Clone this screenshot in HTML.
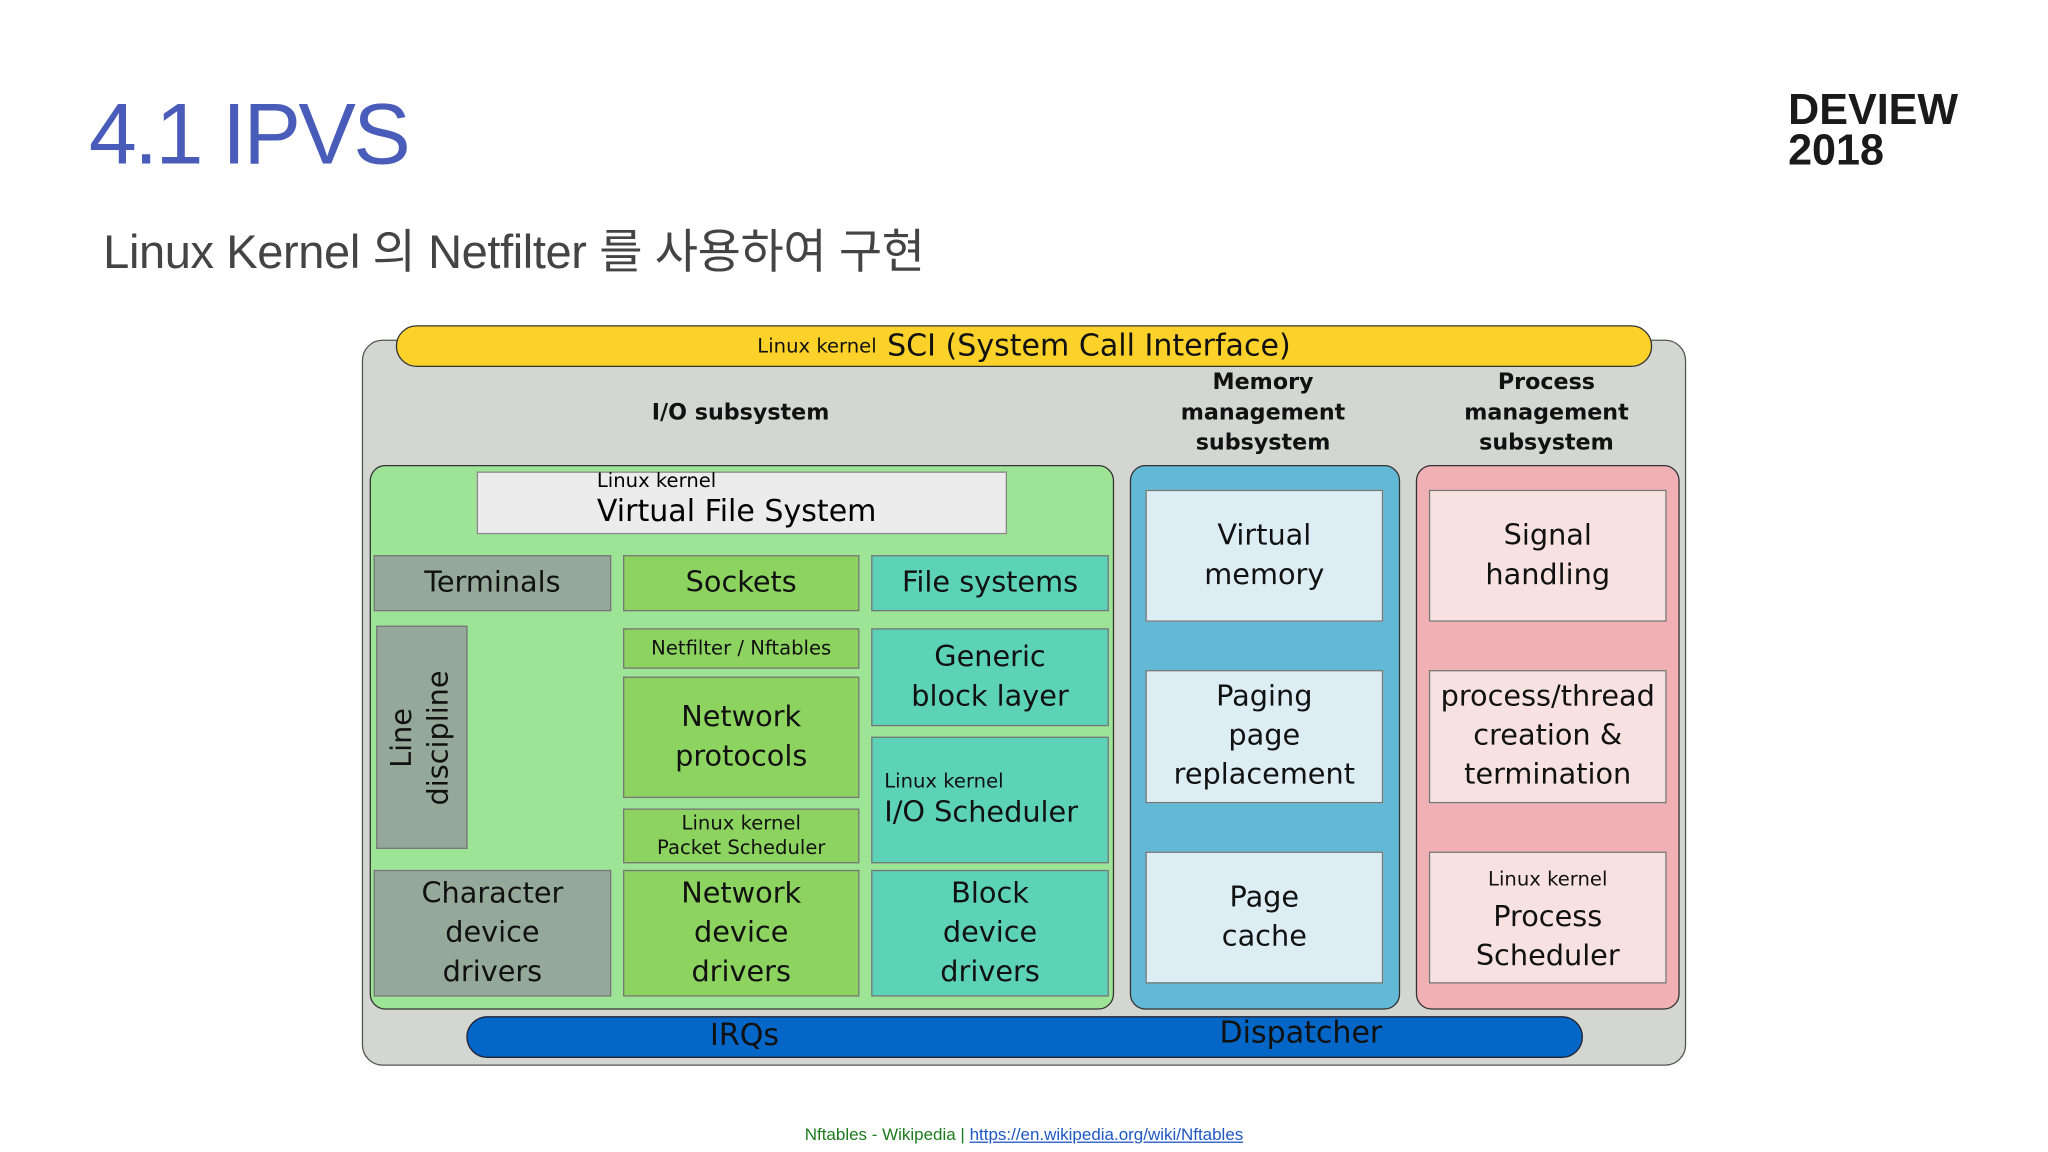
<!DOCTYPE html>
<html><head><meta charset="utf-8"><style>
*{margin:0;padding:0;box-sizing:border-box}
body{width:2048px;height:1152px;background:#fff;overflow:hidden;font-family:"DejaVu Sans",sans-serif}
#s{position:absolute;left:0;top:0;width:1568px;height:882px;transform:scale(1.30612);transform-origin:0 0}
.a{position:absolute}
.b{position:absolute;display:flex;align-items:center;justify-content:center;text-align:center;font-size:22px;line-height:30px;color:#111;border:1px solid #777}
.t{font-size:15px;line-height:19px}
.lbl{position:absolute;font-weight:bold;font-size:17px;line-height:23px;text-align:center;color:#111}
</style></head><body><div id="s">
<div class="a" style="left:68px;top:64px;font-family:'Liberation Sans',sans-serif;font-size:66px;color:#4a5cba;letter-spacing:-2px">4.1 IPVS</div>
<div class="a" style="left:1369px;top:68px;font-family:'Liberation Sans',sans-serif;font-weight:bold;font-size:33px;line-height:31px;color:#1a1a1a">DEVIEW<br>2018</div>
<div class="a" style="left:79px;top:164px;font-family:'Liberation Sans','Noto Sans CJK KR',sans-serif;font-size:36px;color:#444;letter-spacing:-0.3px">Linux Kernel 의 Netfilter 를 사용하여 구현</div>

<div class="a" style="left:277px;top:260px;width:1014px;height:556px;background:#d4d6d1;border:1.5px solid #555;border-radius:16px"></div>
<div class="b" style="left:303px;top:249px;width:962px;height:32px;background:#fcd22a;border:1.5px solid #333;border-radius:16px;font-size:23px"><span style="font-size:15px;margin-right:8px">Linux kernel</span>SCI (System Call Interface)</div>
<div class="lbl" style="left:467px;top:305px;width:200px">I/O subsystem</div>
<div class="lbl" style="left:867px;top:282px;width:200px">Memory<br>management<br>subsystem</div>
<div class="lbl" style="left:1084px;top:282px;width:200px">Process<br>management<br>subsystem</div>

<div class="a" style="left:283px;top:356px;width:570px;height:417px;background:#9de497;border:1.5px solid #333;border-radius:12px"></div>
<div class="a" style="left:365px;top:361px;width:406px;height:48px;background:#ececec;border:1px solid #888"></div>
<div class="a t" style="left:457px;top:359px">Linux kernel</div>
<div class="a" style="left:457px;top:379px;font-size:23px">Virtual File System</div>
<div class="b" style="left:286px;top:425px;width:182px;height:43px;background:#95a99b">Terminals</div>
<div class="b" style="left:477px;top:425px;width:181px;height:43px;background:#8cd35f">Sockets</div>
<div class="b" style="left:667px;top:425px;width:182px;height:43px;background:#5cd2b6">File systems</div>
<div class="b" style="left:288px;top:479px;width:70px;height:171px;background:#95a99b"><div style="transform:rotate(-90deg);white-space:nowrap;line-height:28px">Line<br>discipline</div></div>
<div class="b t" style="left:477px;top:481px;width:181px;height:31px;background:#8cd35f">Netfilter / Nftables</div>
<div class="b" style="left:477px;top:518px;width:181px;height:93px;background:#8cd35f">Network<br>protocols</div>
<div class="b t" style="left:477px;top:619px;width:181px;height:42px;background:#8cd35f">Linux kernel<br>Packet Scheduler</div>
<div class="b" style="left:667px;top:481px;width:182px;height:75px;background:#5cd2b6">Generic<br>block layer</div>
<div class="b" style="left:667px;top:564px;width:182px;height:97px;background:#5cd2b6;flex-direction:column;align-items:flex-start;padding-left:9px;text-align:left"><span style="font-size:15px;line-height:20px">Linux kernel</span><span>I/O Scheduler</span></div>
<div class="b" style="left:286px;top:666px;width:182px;height:97px;background:#95a99b">Character<br>device<br>drivers</div>
<div class="b" style="left:477px;top:666px;width:181px;height:97px;background:#8cd35f">Network<br>device<br>drivers</div>
<div class="b" style="left:667px;top:666px;width:182px;height:97px;background:#5cd2b6">Block<br>device<br>drivers</div>

<div class="a" style="left:865px;top:356px;width:207px;height:417px;background:#62b9d6;border:1.5px solid #333;border-radius:12px"></div>
<div class="b" style="left:877px;top:375px;width:182px;height:101px;background:#dceef4">Virtual<br>memory</div>
<div class="b" style="left:877px;top:513px;width:182px;height:102px;background:#dceef4">Paging<br>page<br>replacement</div>
<div class="b" style="left:877px;top:652px;width:182px;height:101px;background:#dceef4">Page<br>cache</div>

<div class="a" style="left:1084px;top:356px;width:202px;height:417px;background:#f1b0b4;border:1.5px solid #333;border-radius:12px"></div>
<div class="b" style="left:1094px;top:375px;width:182px;height:101px;background:#f7e2e1">Signal<br>handling</div>
<div class="b" style="left:1094px;top:513px;width:182px;height:102px;background:#f7e2e1;white-space:nowrap">process/thread<br>creation &amp;<br>termination</div>
<div class="b" style="left:1094px;top:652px;width:182px;height:101px;background:#f7e2e1"><div><span style="font-size:15px">Linux kernel</span><br>Process<br>Scheduler</div></div>

<div class="a" style="left:357px;top:778px;width:855px;height:32px;background:#0466c6;border:1.5px solid #223;border-radius:16px"></div>
<div class="a" style="left:520px;top:778px;width:100px;text-align:center;font-size:23px;line-height:30px;color:#111">IRQs</div>
<div class="a" style="left:916px;top:776px;width:160px;text-align:center;font-size:23px;line-height:30px;color:#111">Dispatcher</div>

<div class="a" style="left:0;top:861px;width:1568px;text-align:center;font-family:'Liberation Sans',sans-serif;font-size:13px;color:#1d7a1d">Nftables - Wikipedia | <span style="color:#1f57c3;text-decoration:underline">https://en.wikipedia.org/wiki/Nftables</span></div>
</div></body></html>
